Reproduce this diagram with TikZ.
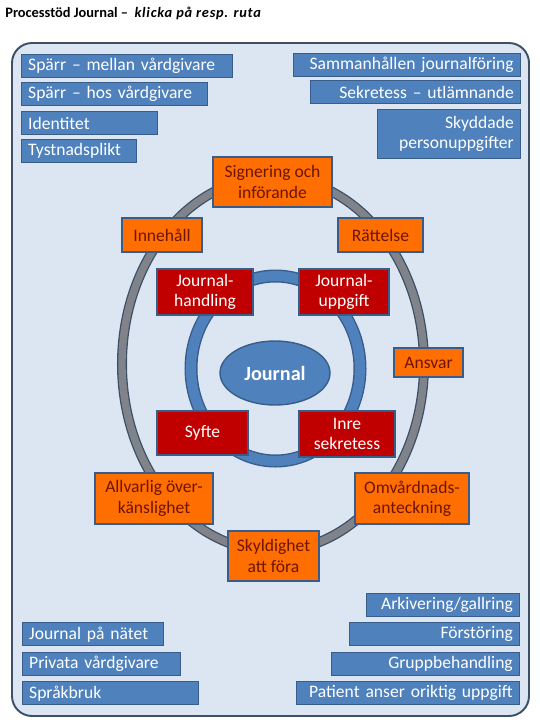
\documentclass[tikz,border=0pt]{standalone}
\usepackage{fontspec}
\setmainfont{Carlito}
\usetikzlibrary{shapes.geometric}

\definecolor{frameFill}{RGB}{220,230,242}
\definecolor{frameLine}{RGB}{62,80,104}
\definecolor{boxBlue}{RGB}{79,129,189}
\definecolor{boxLine}{RGB}{56,93,138}
\definecolor{boxRed}{RGB}{192,0,0}
\definecolor{boxOrange}{RGB}{255,110,0}
\definecolor{textBrown}{RGB}{110,20,0}
\definecolor{ringGray}{RGB}{128,132,138}

\begin{document}
\begin{tikzpicture}[x=0.02cm, y=-0.02cm,
    box/.style={draw=boxLine, line width=0.8pt, inner sep=0pt, align=center, font=\fontsize{10}{11.6}\selectfont},
    topic/.style={box, fill=boxBlue, text=white, inner xsep=0.13cm, minimum height=0.46cm},
    lefttopic/.style={topic, anchor=north west, align=left},
    righttopic/.style={topic, anchor=north east, align=right},
    rule/.style={box, fill=boxOrange, text=textBrown},
    core/.style={box, fill=boxRed, text=white}
  ]
    \useasboundingbox (0,0) rectangle (540,720);
    \node[anchor=base west, inner sep=0pt, font=\fontsize{8.2}{9.5}\selectfont] (title) at (5,17)
      {\textbf{Processtöd Journal –}\ \ {\addfontfeature{LetterSpace=5}\textbf{\textit{klicka på resp. ruta}}}};
    \draw[frameLine, fill=frameFill, line width=1.1pt, rounded corners=0.4cm] (12,43) rectangle (529,716);

    % rings
    \draw[frameLine, line width=5.7pt] (273,364) ellipse [x radius=151, y radius=187];
    \draw[ringGray, line width=4.2pt] (273,364) ellipse [x radius=151, y radius=187];
    \draw[boxLine, line width=7.4pt] (275.5,368.5) ellipse [x radius=84.5, y radius=92.5];
    \draw[boxBlue, line width=5.8pt] (275.5,368.5) ellipse [x radius=84.5, y radius=92.5];
    \node[box, ellipse, fill=boxBlue, text=white, minimum width=2.2cm, minimum height=1.28cm, font=\fontsize{11.5}{13}\selectfont\bfseries] (journal) at (275,373) {Journal};

    % topics top
    \node[lefttopic, text width=3.96cm] (sparrMellan) at (21,54) {Spärr – mellan vårdgivare};
    \node[lefttopic, text width=3.46cm] (sparrHos) at (21,82) {Spärr – hos vårdgivare};
    \node[lefttopic, text width=2.46cm] (identitet) at (21,111) {Identitet};
    \node[lefttopic, text width=2.04cm] (tystnad) at (21,139) {Tystnadsplikt};
    \node[righttopic, text width=4.28cm] (sammanhallen) at (521,53) {Sammanhållen journalföring};
    \node[righttopic, text width=3.94cm] (sekretess) at (521,80) {Sekretess – utlämnande};
    \node[righttopic, text width=2.60cm, minimum height=0.98cm] (skyddade) at (521,109) {Skyddade\\personuppgifter};

    % rules on the outer ring
    \node[rule, minimum width=2.38cm, minimum height=1.0cm] (signering) at (272.5,182) {Signering och\\införande};
    \node[rule, minimum width=1.6cm, minimum height=0.68cm] (innehall) at (162,235) {Innehåll};
    \node[rule, minimum width=1.7cm, minimum height=0.68cm] (rattelse) at (380.5,235) {Rättelse};
    \node[rule, minimum width=1.38cm, minimum height=0.58cm] (ansvar) at (428.5,362.5) {Ansvar};
    \node[rule, minimum width=2.36cm, minimum height=1.02cm] (allvarlig) at (154,498.5) {Allvarlig över-\\känslighet};
    \node[rule, minimum width=2.28cm, minimum height=1.02cm] (omvardnad) at (412,498.5) {Omvårdnads-\\anteckning};
    \node[rule, minimum width=1.82cm, minimum height=1.0cm] (skyldighet) at (273.5,556) {Skyldighet\\att föra};

    % inner ring
    \node[core, minimum width=1.92cm, minimum height=0.92cm] (handling) at (205,292) {Journal-\\handling};
    \node[core, minimum width=1.8cm, minimum height=0.92cm] (uppgift) at (344,292) {Journal-\\uppgift};
    \node[core, minimum width=1.82cm, minimum height=0.88cm] (syfte) at (202.5,433) {Syfte};
    \node[core, minimum width=1.92cm, minimum height=0.92cm] (inre) at (347,434) {Inre\\sekretess};

    % topics bottom
    \node[righttopic, text width=2.80cm] (arkivering) at (520,593) {Arkivering/gallring};
    \node[righttopic, text width=3.14cm] (forstoring) at (520,622) {Förstöring};
    \node[righttopic, text width=3.50cm] (grupp) at (520,652) {Gruppbehandling};
    \node[righttopic, text width=4.20cm] (patient) at (520,681) {Patient anser oriktig uppgift};
    \node[lefttopic, text width=2.56cm] (natet) at (22,622) {Journal på nätet};
    \node[lefttopic, text width=2.90cm] (privata) at (22,652) {Privata vårdgivare};
    \node[lefttopic, text width=3.26cm] (sprakbruk) at (22,681) {Språkbruk};
\end{tikzpicture}
\end{document}
